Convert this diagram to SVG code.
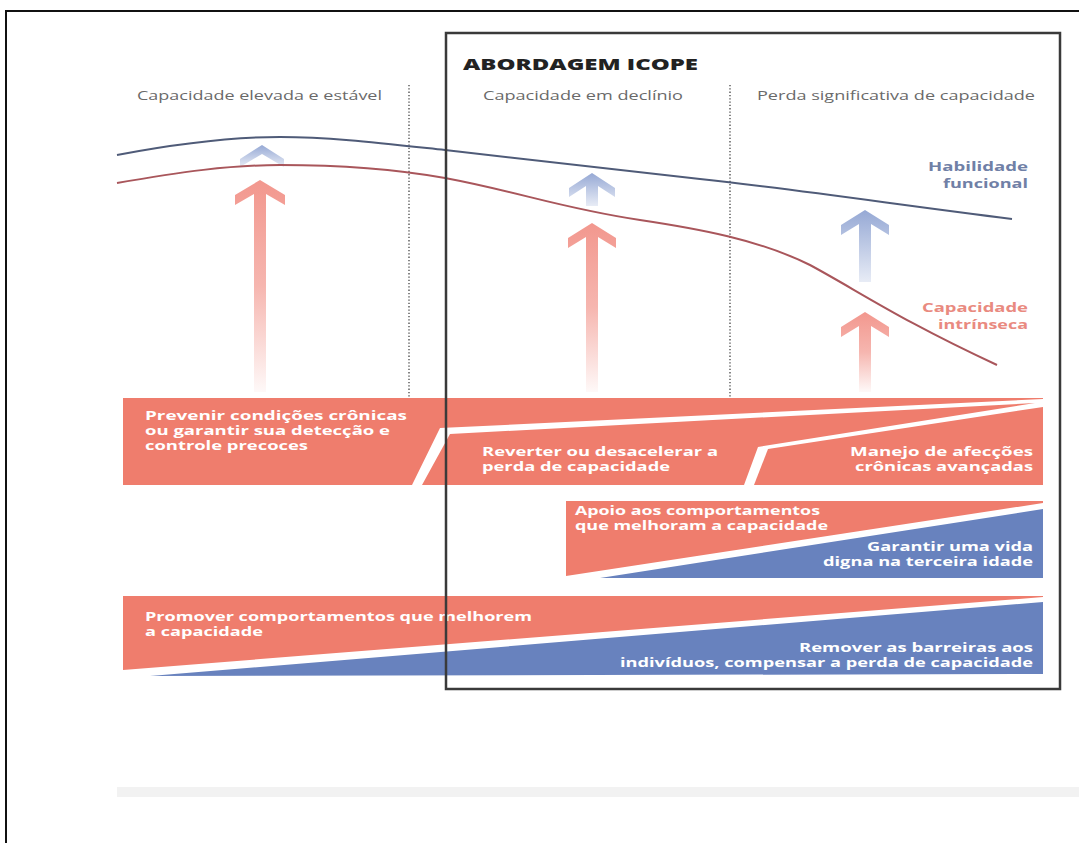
<svg xmlns="http://www.w3.org/2000/svg" width="1079" height="843" viewBox="0 0 1079 843">
<defs>
<style>
text{font-family:"Open Sans","Liberation Sans",sans-serif}
.hdr{font-size:13px;fill:#6a6a6a}
.bt{font-size:12px;font-weight:700;fill:#ffffff}
.red{fill:#ef7d6d}
.blue{fill:#6882be}
.dot{stroke:#444;stroke-width:1.3;stroke-dasharray:1.3 2;fill:none}
</style>
<linearGradient id="gr" x1="0" y1="0" x2="0" y2="1">
<stop offset="0" stop-color="#f0857a" stop-opacity="0.85"/>
<stop offset="0.5" stop-color="#f0857a" stop-opacity="0.6"/>
<stop offset="1" stop-color="#f0857a" stop-opacity="0.05"/>
</linearGradient>
<linearGradient id="gb" x1="0" y1="0" x2="0" y2="1">
<stop offset="0" stop-color="#8a9fd0" stop-opacity="0.9"/>
<stop offset="1" stop-color="#8a9fd0" stop-opacity="0.2"/>
</linearGradient>
</defs>
<rect width="1079" height="843" fill="#ffffff"/>
<g id="frame">
<line x1="5" y1="11" x2="1079" y2="11" stroke="#111" stroke-width="2"/>
<line x1="6" y1="11" x2="6" y2="843" stroke="#111" stroke-width="2"/>
<rect x="117" y="787" width="962" height="10" fill="#f2f2f2"/>
</g>
<g id="dividers">
<line class="dot" x1="409" y1="85" x2="409" y2="398"/>
<line class="dot" x1="730" y1="85" x2="730" y2="398"/>
</g>
<g id="stage-labels">
<text class="hdr" x="137" y="100" textLength="245" lengthAdjust="spacingAndGlyphs">Capacidade elevada e estável</text>
<text class="hdr" x="483" y="100" textLength="200" lengthAdjust="spacingAndGlyphs">Capacidade em declínio</text>
<text class="hdr" x="757" y="100" textLength="278" lengthAdjust="spacingAndGlyphs">Perda significativa de capacidade</text>
</g>
<g id="arrows">
<path fill="url(#gr)" d="M260,180 L285,195 L285,205 L266,194 L266,392 L254,392 L254,194 L235,205 L235,195 Z"/>
<path fill="url(#gb)" d="M262,145 L284,159 L284,167 L262,154 L240,167 L240,159 Z"/>
<path fill="url(#gr)" d="M592,223 L616,238 L616,248 L598,237 L598,392 L586,392 L586,237 L568,248 L568,238 Z"/>
<path fill="url(#gb)" d="M592,173 L615,188 L615,197 L598,186 L598,206 L586,206 L586,186 L569,197 L569,188 Z"/>
<path fill="url(#gr)" d="M865,312 L889,327 L889,337 L871,326 L871,392 L859,392 L859,326 L841,337 L841,327 Z"/>
<path fill="url(#gb)" d="M865,210 L889,225 L889,235 L871,224 L871,282 L859,282 L859,224 L841,235 L841,225 Z"/>
</g>
<g id="curves">
<path d="M117,155 C170,145 230,137 280,137 C330,137 380,143 445,150 C520,158 600,168 700,179 C800,190 900,205 1012,219" fill="none" stroke="#4f5b78" stroke-width="2"/>
<path d="M117,183 C180,172 230,165 280,165 C340,165 400,170 445,178 C520,192 560,208 640,220 C700,229 760,240 810,265 C860,292 900,320 997,365" fill="none" stroke="#a9565b" stroke-width="2"/>
</g>
<g id="curve-labels">
<text x="1028" y="171" text-anchor="end" font-size="13" font-weight="700" fill="#7080a6" textLength="100" lengthAdjust="spacingAndGlyphs">Habilidade</text>
<text x="1028" y="188" text-anchor="end" font-size="13" font-weight="700" fill="#7080a6" textLength="85" lengthAdjust="spacingAndGlyphs">funcional</text>
<text x="1028" y="312" text-anchor="end" font-size="13" font-weight="700" fill="#e98a80" textLength="106" lengthAdjust="spacingAndGlyphs">Capacidade</text>
<text x="1028" y="329" text-anchor="end" font-size="13" font-weight="700" fill="#e98a80" textLength="90" lengthAdjust="spacingAndGlyphs">intrínseca</text>
</g>
<g id="band-prevenir">
<path class="red" d="M123,398 H1043 V399 L440,428 L412,485 H123 Z"/>
<text class="bt" x="145" y="420" textLength="262" lengthAdjust="spacingAndGlyphs">Prevenir condições crônicas</text>
<text class="bt" x="145" y="435" textLength="245" lengthAdjust="spacingAndGlyphs">ou garantir sua detecção e</text>
<text class="bt" x="145" y="450" textLength="163" lengthAdjust="spacingAndGlyphs">controle precoces</text>
</g>
<g id="band-reverter">
<path class="red" d="M450,434 L1035,403 L758,447 L744,485 H422 Z"/>
<text class="bt" x="482" y="456" textLength="236" lengthAdjust="spacingAndGlyphs">Reverter ou desacelerar a</text>
<text class="bt" x="482" y="471" textLength="188" lengthAdjust="spacingAndGlyphs">perda de capacidade</text>
</g>
<g id="band-manejo">
<path class="red" d="M768,449 L1043,407 V485 H754 Z"/>
<text class="bt" x="1033" y="456" text-anchor="end" textLength="183" lengthAdjust="spacingAndGlyphs">Manejo de afecções</text>
<text class="bt" x="1033" y="471" text-anchor="end" textLength="178" lengthAdjust="spacingAndGlyphs">crônicas avançadas</text>
</g>
<g id="band-apoio">
<path class="red" d="M566,501 H1043 V503 L566,576 Z"/>
<text class="bt" x="575" y="515" textLength="245" lengthAdjust="spacingAndGlyphs">Apoio aos comportamentos</text>
<text class="bt" x="575" y="530" textLength="253" lengthAdjust="spacingAndGlyphs">que melhoram a capacidade</text>
</g>
<g id="band-garantir">
<path class="blue" d="M600,578 L1043,509 V578 Z"/>
<text class="bt" x="1033" y="551" text-anchor="end" textLength="166" lengthAdjust="spacingAndGlyphs">Garantir uma vida</text>
<text class="bt" x="1033" y="566" text-anchor="end" textLength="210" lengthAdjust="spacingAndGlyphs">digna na terceira idade</text>
</g>
<g id="band-promover">
<path class="red" d="M123,596 H1043 V597 L123,670 Z"/>
<text class="bt" x="145" y="621" textLength="387" lengthAdjust="spacingAndGlyphs">Promover comportamentos que melhorem</text>
<text class="bt" x="145" y="636" textLength="118" lengthAdjust="spacingAndGlyphs">a capacidade</text>
</g>
<g id="band-remover">
<path class="blue" d="M150,676 L1043,602 V674 Z"/>
<text class="bt" x="1033" y="652" text-anchor="end" textLength="234" lengthAdjust="spacingAndGlyphs">Remover as barreiras aos</text>
<text class="bt" x="1033" y="667" text-anchor="end" textLength="413" lengthAdjust="spacingAndGlyphs">indivíduos, compensar a perda de capacidade</text>
</g>
<g id="icope-box">
<rect x="446" y="33" width="614" height="656" fill="none" stroke="#3a3a3a" stroke-width="2.5"/>
<text x="463" y="70" font-size="16" font-weight="800" fill="#222" textLength="235" lengthAdjust="spacingAndGlyphs">ABORDAGEM ICOPE</text>
</g>
</svg>
